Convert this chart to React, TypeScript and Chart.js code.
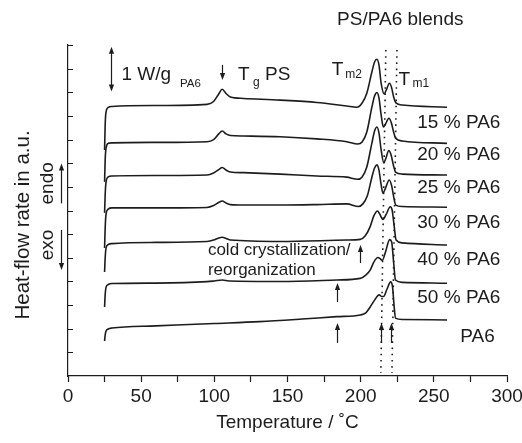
import React, { useEffect, useRef } from 'react';
import { Chart, registerables } from 'chart.js';

Chart.register(...registerables);

// ---- data (Temperature / °C, heat-flow in a.u. with vertical offsets) ----
const blend15: [number, number][] = [
  [25, 9.56], [25.4, 10.62], [26, 11.17], [27.5, 11.36], [30, 11.4], [60, 11.44], [95, 11.49],
  [99.5, 11.61], [103, 11.93], [105.4, 12.13], [108, 11.95], [111, 11.8], [120, 11.74], [145, 11.67],
  [170, 11.57], [190.5, 11.42], [197.4, 11.37], [201, 11.55], [204.2, 11.96], [207.7, 12.87],
  [209.5, 13.28], [211.1, 13.4], [212.5, 13.16], [214, 12.38], [216.1, 11.93], [217.5, 12.1],
  [219.7, 12.38], [221.2, 12.18], [222.5, 11.81], [224.3, 11.54], [228.5, 11.46], [259, 11.37],
];
const blend20: [number, number][] = [
  [25, 8.21], [25.4, 9.14], [26, 9.64], [27.5, 9.84], [30, 9.86], [60, 9.88], [95, 9.91],
  [99.5, 10.0], [103, 10.24], [105.4, 10.36], [108, 10.24], [111, 10.17], [120, 10.15], [145, 10.12],
  [170, 10.03], [190.5, 9.91], [198, 9.81], [201, 9.9], [204.2, 10.32], [207.7, 11.38], [209.5, 11.84],
  [211.1, 11.99], [212.5, 11.76], [214, 11.04], [215.5, 10.53], [217, 10.66], [219.3, 10.9],
  [221, 10.7], [222.5, 10.32], [224, 10.05], [228.5, 9.94], [259, 9.84],
];
const blend25: [number, number][] = [
  [25, 6.9], [25.4, 7.66], [26, 8.21], [27.5, 8.42], [30, 8.46], [60, 8.48], [95, 8.5],
  [99.5, 8.59], [103, 8.73], [105.4, 8.82], [108, 8.71], [111, 8.63], [120, 8.6], [145, 8.54],
  [170, 8.46], [190.5, 8.41], [198, 8.32], [201, 8.42], [204.2, 8.84], [207.7, 9.86], [209.5, 10.36],
  [211.1, 10.53], [212.5, 10.28], [214, 9.56], [215.8, 9.01], [217.3, 9.22], [219.2, 9.54],
  [220.8, 9.35], [222.5, 8.88], [224, 8.61], [228.5, 8.54], [259, 8.5],
];
const blend30: [number, number][] = [
  [25, 5.41], [25.4, 6.26], [26, 6.85], [27.5, 7.06], [30, 7.11], [60, 7.11], [95, 7.13],
  [99.5, 7.21], [103, 7.34], [105.4, 7.4], [108, 7.32], [111, 7.25], [120, 7.23], [145, 7.23],
  [170, 7.25], [190.5, 7.28], [198.5, 7.17], [201.5, 7.28], [204.5, 7.61], [207.7, 8.42], [209.5, 8.8],
  [211.1, 8.93], [212.5, 8.71], [214, 8.08], [215.2, 7.74], [217, 7.95], [219.5, 8.29],
  [221.2, 8.04], [222.7, 7.53], [224, 7.23], [228.5, 7.17], [259, 7.14],
];
const blend40: [number, number][] = [
  [25, 4.4], [25.4, 4.99], [26, 5.41], [27.5, 5.56], [30, 5.6], [60, 5.65], [95, 5.69],
  [99.5, 5.75], [103, 5.84], [105.4, 5.87], [108, 5.82], [111, 5.75], [145, 5.69], [190.5, 5.75],
  [199.7, 5.78], [203, 5.92], [206.5, 6.32], [209, 6.77], [211.5, 6.98], [213, 6.85], [215.2, 6.62],
  [217.5, 6.85], [220.2, 7.16], [221.5, 7.02], [222.8, 6.39], [224.2, 5.75], [228.5, 5.63], [259, 5.54],
];
const blend50: [number, number][] = [
  [25, 2.92], [25.4, 3.43], [26, 3.76], [27.5, 3.87], [30, 3.91], [60, 3.93], [95, 3.99],
  [100, 4.02], [105.4, 4.06], [110, 4.02], [145, 4.0], [183.7, 4.06], [199.7, 4.13], [203.5, 4.27],
  [206.5, 4.48], [209, 4.82], [211.8, 5.01], [213.5, 4.95], [214.8, 4.89], [217, 5.25], [219.8, 5.77],
  [221.2, 5.67], [222.5, 4.82], [223.8, 4.06], [228.5, 3.96], [259, 3.92],
];
const pa6: [number, number][] = [
  [25, 1.48], [25.4, 1.73], [26, 1.9], [27.5, 1.99], [30, 2.03], [60, 2.12], [100, 2.22],
  [131, 2.3], [160, 2.41], [183.7, 2.51], [199.7, 2.58], [203.5, 2.67], [206.5, 2.92], [209.5, 3.21],
  [212.6, 3.43], [214.5, 3.36], [215.6, 3.36], [218, 3.68], [220.5, 3.98], [221.8, 3.76],
  [222.8, 3.0], [223.8, 2.45], [228.5, 2.39], [259, 2.37],
];

const seriesNames = ['15 % PA6', '20 % PA6', '25 % PA6', '30 % PA6', '40 % PA6', '50 % PA6', 'PA6'];
const seriesData = [blend15, blend20, blend25, blend30, blend40, blend50, pa6];

// Tm guide lines (dotted)
const tm2Line: [number, number][] = [[217.2, 13.79], [213.8, 0.13]];
const tm1Line: [number, number][] = [[224.8, 13.79], [221.4, 0.13]];

const xMin = 0;
const xMax = 300;
const yMin = 0;
const yMax = 14;

// ---- layout / annotation placement (data coordinates) ----
const FONT = "'Liberation Sans', Arial, Helvetica, sans-serif";
const INK = '#1c1c1c';

const seriesLabelPos: [number, number][] = [
  [238.7, 10.49], [238.7, 9.14], [238.7, 7.74], [238.7, 6.26], [238.7, 4.7], [238.7, 3.09], [268.1, 1.45],
];

const texts = [
  { s: 'PS/PA6 blends', t: 183.9, v: 14.85, size: 19 },
  { s: '1 W/g', t: 36.5, v: 12.52, size: 19 },
  { s: 'PA6', t: 76.5, v: 12.21, size: 11.5 },
  { s: 'T', t: 116.2, v: 12.52, size: 19 },
  { s: 'g', t: 126.4, v: 12.26, size: 12 },
  { s: 'PS', t: 134.6, v: 12.52, size: 19 },
  { s: 'T', t: 180.3, v: 12.72, size: 19 },
  { s: 'm2', t: 189.4, v: 12.59, size: 12 },
  { s: 'T', t: 225.8, v: 12.3, size: 19 },
  { s: 'm1', t: 235.5, v: 12.22, size: 12 },
  { s: 'cold crystallization/', t: 95.6, v: 5.12, size: 17 },
  { s: 'reorganization', t: 95.6, v: 4.27, size: 17 },
];

const rotatedTexts = [
  { s: 'Heat-flow rate in a.u.', t: -26.6, v: 6.39, size: 20.5 },
  { s: 'endo', t: -10.1, v: 8.15, size: 19 },
  { s: 'exo', t: -10.1, v: 5.54, size: 19 },
];

// arrows: [t, vFrom, vTo] -> head at vTo
const arrows: [number, number, number][] = [
  [105, 13.16, 12.52],
  [199.7, 4.78, 5.54],
  [183.7, 3.13, 3.93],
  [183.7, 1.4, 2.24],
  [213.8, 1.4, 2.24],
  [220.9, 1.4, 2.24],
  [-5.0, 7.3, 8.99],
  [-5.0, 6.18, 4.48],
];
const scaleBar: [number, number, number] = [29.2, 12.03, 13.93];

function drawArrowHead(ctx: CanvasRenderingContext2D, x: number, y: number, dir: number) {
  // dir: +1 = pointing down, -1 = pointing up
  const len = 7;
  const half = 2.6;
  ctx.beginPath();
  ctx.moveTo(x, y);
  ctx.lineTo(x - half, y - dir * len);
  ctx.lineTo(x + half, y - dir * len);
  ctx.closePath();
  ctx.fill();
}

const annotationPlugin = {
  id: 'dscAnnotations',
  afterDraw(chart: any) {
    const { ctx, chartArea } = chart;
    const xs = chart.scales.x;
    const ys = chart.scales.y;
    const X = (t: number) => xs.getPixelForValue(t);
    const Y = (v: number) => ys.getPixelForValue(v);
    ctx.save();
    ctx.strokeStyle = INK;
    ctx.fillStyle = INK;

    // inward y ticks
    ctx.lineWidth = 1;
    ys.ticks.forEach((tk: any) => {
      if (tk.value <= yMin) return;
      const py = Math.round(Y(tk.value)) + 0.5;
      ctx.beginPath();
      ctx.moveTo(chartArea.left, py);
      ctx.lineTo(chartArea.left + 5, py);
      ctx.stroke();
    });

    // plain texts
    ctx.textBaseline = 'alphabetic';
    ctx.textAlign = 'left';
    texts.forEach((o) => {
      ctx.font = `${o.size}px ${FONT}`;
      ctx.fillText(o.s, X(o.t), Y(o.v));
    });
    seriesNames.forEach((name, i) => {
      ctx.font = `19px ${FONT}`;
      ctx.fillText(name, X(seriesLabelPos[i][0]), Y(seriesLabelPos[i][1]));
    });

    // rotated texts
    rotatedTexts.forEach((o) => {
      ctx.save();
      ctx.translate(X(o.t), Y(o.v));
      ctx.rotate(-Math.PI / 2);
      ctx.font = `${o.size}px ${FONT}`;
      ctx.textAlign = 'center';
      ctx.textBaseline = 'alphabetic';
      ctx.fillText(o.s, 0, 0);
      ctx.restore();
    });

    // arrows
    ctx.lineWidth = 1.2;
    arrows.forEach(([t, v0, v1]) => {
      const x = Math.round(X(t)) + 0.5;
      const y0 = Y(v0);
      const y1 = Y(v1);
      const dir = y1 > y0 ? 1 : -1;
      ctx.beginPath();
      ctx.moveTo(x, y0);
      ctx.lineTo(x, y1 - dir * 5);
      ctx.stroke();
      drawArrowHead(ctx, x, y1, dir);
    });

    // scale bar (double arrow)
    {
      const [t, v0, v1] = scaleBar;
      const x = Math.round(X(t)) + 0.5;
      const yb = Y(v0);
      const yt = Y(v1);
      ctx.beginPath();
      ctx.moveTo(x, yt + 5);
      ctx.lineTo(x, yb - 5);
      ctx.stroke();
      drawArrowHead(ctx, x, yt, -1);
      drawArrowHead(ctx, x, yb, 1);
    }
    ctx.restore();
  },
};

export default function App() {
  const canvasRef = useRef<HTMLCanvasElement | null>(null);

  useEffect(() => {
    const canvas = canvasRef.current;
    if (!canvas) return;
    Chart.defaults.font.family = FONT;
    Chart.defaults.color = INK;

    const curveSets = seriesData.map((d, i) => ({
      label: seriesNames[i],
      data: d.map(([x, y]) => ({ x, y })),
      borderColor: INK,
      borderWidth: 1.6,
      pointRadius: 0,
      fill: false,
      cubicInterpolationMode: 'monotone' as const,
    }));
    const dotted = [tm2Line, tm1Line].map((d, i) => ({
      label: i === 0 ? 'Tm2' : 'Tm1',
      data: d.map(([x, y]) => ({ x, y })),
      borderColor: INK,
      borderWidth: 1.6,
      borderDash: [1.6, 4.6],
      pointRadius: 0,
      fill: false,
      tension: 0,
    }));

    const chart = new Chart(canvas, {
      type: 'line',
      data: { datasets: [...curveSets, ...dotted] as any },
      options: {
        animation: false,
        responsive: true,
        maintainAspectRatio: false,
        devicePixelRatio: 1,
        layout: { padding: { left: 68, right: 15, top: 45, bottom: 0 } },
        plugins: { legend: { display: false }, tooltip: { enabled: false } },
        scales: {
          x: {
            type: 'linear',
            min: xMin,
            max: xMax,
            border: { display: true, color: INK, width: 1.2 },
            grid: {
              display: true,
              drawOnChartArea: false,
              drawTicks: true,
              tickLength: 6,
              color: INK,
              tickColor: INK,
              tickWidth: 1.2,
            },
            ticks: {
              stepSize: 25,
              autoSkip: false,
              maxRotation: 0,
              padding: 3,
              color: INK,
              font: { size: 19, family: FONT },
              callback: (val: any) => (Number(val) % 50 === 0 ? String(val) : ''),
            },
            title: {
              display: true,
              text: 'Temperature / ˚C',
              color: INK,
              font: { size: 19, family: FONT },
              padding: { top: 0, bottom: 9 },
            },
            afterFit: (s: any) => {
              s.height = 67;
              s.paddingLeft = 0;
              s.paddingRight = 0;
            },
          },
          y: {
            type: 'linear',
            min: yMin,
            max: yMax,
            border: { display: true, color: INK, width: 1.2 },
            grid: { display: false },
            ticks: { display: false, stepSize: 1 },
            afterFit: (s: any) => {
              s.width = 0;
              s.paddingTop = 0;
              s.paddingBottom = 0;
            },
          },
        },
      },
      plugins: [annotationPlugin],
    });
    return () => chart.destroy();
  }, []);

  return (
    <div style={{ position: 'fixed', left: 0, top: 0, width: 522, height: 443, background: '#fff' }}>
      <canvas ref={canvasRef} />
    </div>
  );
}
